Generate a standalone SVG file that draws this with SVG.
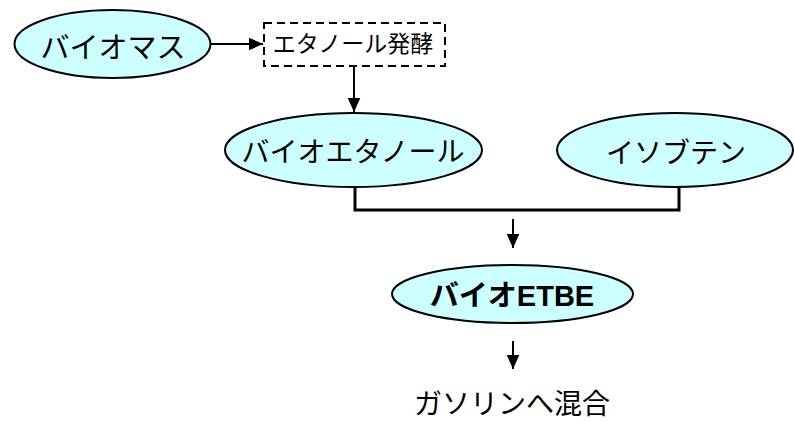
<svg xmlns="http://www.w3.org/2000/svg" width="794" height="423" viewBox="0 0 794 423">
<style>
.node{fill:#CCFFFF;stroke:#000;stroke-width:2}
.t{font-family:"Noto Sans CJK JP","Liberation Sans",sans-serif;fill:#000;text-anchor:middle}
.c{stroke:#000;fill:none;stroke-width:2}
.br{stroke:#000;fill:none;stroke-width:3}
</style>
<defs>
<marker id="ah" viewBox="0 0 10 10" refX="10" refY="5" markerWidth="14" markerHeight="14" markerUnits="userSpaceOnUse" orient="auto">
<path d="M0,0.5 L10,5 L0,9.5 Z" fill="#000"/>
</marker>
</defs>
<g id="connectors">
<line class="c" x1="211" y1="44" x2="263" y2="44" marker-end="url(#ah)"/>
<line class="c" x1="354" y1="66" x2="354" y2="112" marker-end="url(#ah)"/>
<polyline class="br" points="355,187 355,210 679,210 679,187"/>
<line class="c" x1="513" y1="219" x2="513" y2="248" marker-end="url(#ah)"/>
<line class="c" x1="513" y1="341" x2="513" y2="369" marker-end="url(#ah)"/>
</g>
<g id="biomass">
<ellipse class="node" cx="112.5" cy="44" rx="98" ry="34"/>
<text class="t" x="113" y="58" font-size="29">バイオマス</text>
</g>
<g id="fermentation">
<rect x="264" y="23" width="181" height="43" fill="#fff" stroke="#000" stroke-width="2" stroke-dasharray="8,5"/>
<text class="t" x="353" y="52" font-size="23">エタノール発酵</text>
</g>
<g id="bioethanol">
<ellipse class="node" cx="353.5" cy="150" rx="128.5" ry="37"/>
<text class="t" x="353" y="162" font-size="28">バイオエタノール</text>
</g>
<g id="isobutene">
<ellipse class="node" cx="675" cy="150" rx="118" ry="37"/>
<text class="t" x="676" y="163" font-size="28">イソブテン</text>
</g>
<g id="bioetbe">
<ellipse class="node" cx="512.5" cy="294" rx="120.5" ry="29"/>
<text class="t" x="512" y="306" font-size="29" font-weight="bold" style="font-family:'Liberation Sans','Noto Sans CJK JP',sans-serif">バイオETBE</text>
</g>
<g id="gasoline">
<text class="t" x="512" y="414" font-size="28">ガソリンへ混合</text>
</g>
</svg>
